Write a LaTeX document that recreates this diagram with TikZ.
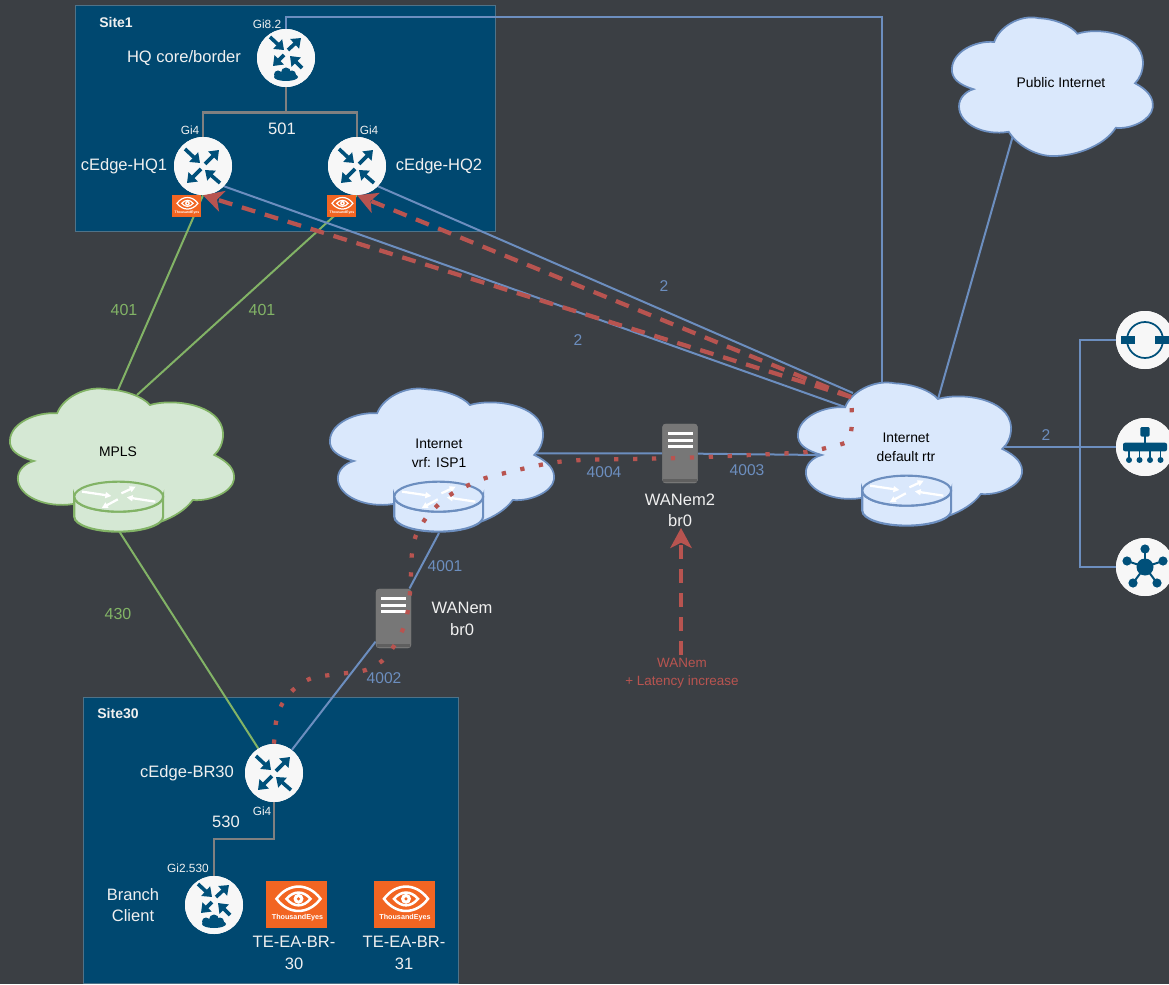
\documentclass[tikz,border=0pt]{standalone}
\usepackage{fontspec}
\setmainfont{Liberation Sans}
\usetikzlibrary{arrows.meta}
\definecolor{bgc}{HTML}{3B3F44}
\definecolor{sitec}{HTML}{004870}
\definecolor{sitee}{HTML}{4F7288}
\definecolor{icon}{HTML}{00507A}
\definecolor{blueln}{HTML}{6C8EBF}
\definecolor{greenln}{HTML}{82B366}
\definecolor{grayln}{HTML}{808080}
\definecolor{redln}{HTML}{B85450}
\definecolor{bluef}{HTML}{DAE8FC}
\definecolor{greenf}{HTML}{D5E8D4}
\definecolor{orangef}{HTML}{F26522}
\definecolor{srv}{HTML}{777777}
\definecolor{srvd}{HTML}{5F5F5F}
\tikzset{
  x=0.75pt,y=-0.75pt,
  site/.style={draw=sitee,fill=sitec,line width=0.6pt},
  disc/.style={circle,fill=white!97!black,draw=none,minimum size=43.5pt,inner sep=0pt},
  teboxn/.style={fill=orangef,draw=none,inner sep=0pt},
  srvbox/.style={fill=srv,draw=none,rounded corners=2.5pt,inner sep=0pt,minimum width=26.5pt,minimum height=44.5pt},
  wt/.style={text=white!94!black,inner sep=0pt,align=center,font=\fontsize{12.4}{15.5}\selectfont},
  wsm/.style={text=white!94!black,inner sep=0pt,font=\fontsize{8.9}{11}\selectfont},
  wb/.style={text=white!94!black,inner sep=0pt,font=\fontsize{10.5}{13}\selectfont\bfseries},
  bk/.style={text=black,inner sep=0pt,align=center,font=\fontsize{10.4}{13.5}\selectfont},
  bt/.style={text=blueln,inner sep=0pt,font=\fontsize{11.7}{14}\selectfont},
  gt/.style={text=greenln,inner sep=0pt,font=\fontsize{12}{14}\selectfont},
  rt/.style={text=redln,inner sep=0pt,align=center,font=\fontsize{10.1}{13.5}\selectfont},
  bl/.style={draw=blueln,line width=1.5pt},
  gl/.style={draw=greenln,line width=1.5pt},
  gr/.style={draw=grayln,line width=2pt},
  dots/.style={draw=redln,line width=3.2pt,dash pattern=on 3.2pt off 11pt},
  dsh/.style={draw=redln,line width=3.2pt,dash pattern=on 10.5pt off 7.5pt},
  rtip/.style={-{Stealth[length=15pt,width=16pt,inset=4pt,fill=redln]}},
  ia/.style={draw=icon,line width=2.7pt,-{Triangle[length=6.5pt,width=9.5pt]}},
  wa/.style={draw=white,line width=1.7pt,-{Triangle[length=4.5pt,width=4.5pt]}},
  cloudshape/.pic={
    \path[pic actions] (160,100) .. controls (175,55) and (240,15) .. (300,28)
      .. controls (350,30) and (400,50) .. (420,75)
      .. controls (480,55) and (620,70) .. (625,160)
      .. controls (625,190) and (615,210) .. (600,225)
      .. controls (640,245) and (660,270) .. (655,300)
      .. controls (650,335) and (590,365) .. (540,360)
      .. controls (500,420) and (400,450) .. (330,445)
      .. controls (280,440) and (230,410) .. (205,372)
      .. controls (130,385) and (50,350) .. (50,295)
      .. controls (50,270) and (70,250) .. (95,243)
      .. controls (50,230) and (25,210) .. (28,180)
      .. controls (30,130) and (100,95) .. (160,100) -- cycle;
  },
  cylshape/.pic={
    \path[pic actions] (208,350) -- (208,410)
      .. controls (208,435) and (263,455) .. (332,455)
      .. controls (401,455) and (457,435) .. (457,410) -- (457,350)
      .. controls (457,375) and (401,395) .. (332,395)
      .. controls (263,395) and (208,375) .. (208,350) -- cycle;
    \path[pic actions] (332,305) .. controls (401,305) and (457,325) .. (457,350)
      .. controls (457,375) and (401,395) .. (332,395)
      .. controls (263,395) and (208,375) .. (208,350)
      .. controls (208,325) and (263,305) .. (332,305) -- cycle;
    \draw[wa] (230,335) -- (312,348);
    \draw[wa] (340,340) -- (380,320);
    \draw[wa] (435,365) -- (355,352);
    \draw[wa] (330,358) -- (285,384);
  },
  rtrarrows/.pic={
    \draw[ia] (-18,-17) -- (-3,-3);
    \draw[ia] (2,-2) -- (16,-16);
    \draw[ia] (-2,3) -- (-16,17);
    \draw[ia] (17,17) -- (2,4);
  },
  rtrcloud/.pic={
    \draw[ia] (-16,-21) -- (-2,-8);
    \draw[ia] (2,-8) -- (15,-20);
    \draw[ia] (-2,-3) -- (-13,8);
    \draw[ia] (16,10) -- (4,-2);
    \fill[icon] (-8,16.5) circle[radius=4];
    \fill[icon] (0,14.5) circle[radius=5];
    \fill[icon] (6,16.5) circle[radius=4];
    \fill[icon] (0,19) ellipse[x radius=12,y radius=4];
  },
  ringicon/.pic={
    \draw[icon,line width=1.3pt] (0,0) circle[radius=18];
    \fill[icon] (-24,-3.7) rectangle (-10,3.7);
    \fill[icon] (10,-3.7) rectangle (26,3.7);
  },
  busicon/.pic={
    \fill[icon,rounded corners=1pt] (-4.7,-20) rectangle (4.7,-10.5);
    \draw[icon,line width=1.4pt] (0,-11) -- (0,-3);
    \fill[icon,rounded corners=1.5pt] (-22,-4.3) rectangle (22,4.3);
    \foreach \p in {-16,-5.5,5,15.5}{
      \draw[icon,line width=1.3pt] (\p,4) -- (\p,12);
      \fill[icon] (\p,13) circle[radius=3];
    }
  },
  hubicon/.pic={
    \foreach \a/\b in {0/-18,-18/-6,18/-6,-12/16,12/16}{
      \draw[icon,line width=1.5pt] (0,0) -- (\a,\b);
      \fill[icon] (\a,\b) circle[radius=4.6];
    }
    \fill[icon] (0,0) circle[radius=8.5];
  },
}
\newcommand{\teicon}[4]{%
  \begin{scope}[shift={(#1.center)},scale=#2]
    \draw[white,line width=#2*1.9pt] (-20,-5.7) .. controls (-8,-22) and (12,-22) .. (24,-5.7)
       .. controls (12,10.5) and (-8,10.5) .. (-20,-5.7) -- cycle;
    \draw[white,line width=#2*1.9pt] (-10,-5.7) .. controls (-3,-14) and (7,-14) .. (14,-5.7)
       .. controls (7,3) and (-3,3) .. (-10,-5.7) -- cycle;
    \fill[white] (2,-5.7) circle[radius=5];
    \fill[orangef] (2,-5.7) circle[radius=1.7];
    \node[text=white,inner sep=0pt,font=\fontsize{#3}{#3}\selectfont\bfseries] (#4) at (1,13.5) {ThousandEyes};
  \end{scope}}
\begin{document}
\begin{tikzpicture}
\useasboundingbox (0,0) rectangle (1169,984);
\fill[bgc] (0,0) rectangle (1169,984);
% site boxes
\path[site] (75,5) rectangle (495,231);
\path[site] (83,697) rectangle (458,983);

% named points
\coordinate (mplsA) at (118,390);
\coordinate (mplsB) at (137,395);
\coordinate (mplsBot) at (119,531);
\coordinate (ispR) at (535,453);
\coordinate (ispBot) at (439,533);
\coordinate (dfTop) at (882,386);
\coordinate (dfA) at (845,407);
\coordinate (dfB) at (853,393);
\coordinate (dfL) at (822,455);
\coordinate (dfPub) at (938,399);
\coordinate (dfR) at (1001,447);
\coordinate (pubBot) at (1014,132);
\coordinate (busT) at (1080,340);
\coordinate (busM) at (1080,447);
\coordinate (busB) at (1080,567);
\coordinate (redEnd) at (851,397);
\coordinate (latSrc) at (681,655);

% nodes
\node[disc] (hq) at (286,58) {};
\node[disc] (hq1) at (203,166) {};
\node[disc] (hq2) at (357,166) {};
\node[disc] (br30) at (274,773) {};
\node[disc] (client) at (214,905) {};
\node[disc] (ic1) at (1145,340) {};
\node[disc] (ic2) at (1145,447) {};
\node[disc] (ic3) at (1145,567) {};
\node[srvbox] (wan) at (393.5,618.5) {};
\node[srvbox] (wan2) at (680,453.5) {};

% links below the clouds
\draw[gl] (hq1.south) -- (mplsA);
\draw[gl] (hq2.south) -- (mplsB);
\draw[gl] (mplsBot) -- (br30);
\draw[bl] (hq.north) |- (600,17) -| (dfTop);
\draw[bl] (hq1.-44) -- (dfA);
\draw[bl] (hq2.-44) -- (dfB);
\draw[bl] (pubBot) -- (dfPub);
\draw[bl] (ispR) -- (wan.center |- ispR) -- (wan2);
\draw[bl] (wan2) -- (dfL);
\draw[bl] (ispBot) -- (wan);
\draw[bl] (wan) -- (br30);
\draw[bl] (dfR) -- (ic2);
\draw[bl] (ic1) -- (busT) -- (busB) -- (ic3);
\draw[gr] (hq.south) -- ++(0,25) -| (hq1.north);
\draw[gr] (hq.south) -- ++(0,25) -| (hq2.north);
\draw[gr] (br30.south) |- (client.north |- 0,839) -- (client.north);

% repaint nodes over the links
\node[disc] at (hq) {};
\node[disc] at (hq1) {};
\node[disc] at (hq2) {};
\node[disc] at (br30) {};
\node[disc] at (client) {};
\node[disc] at (ic1) {};
\node[disc] at (ic2) {};
\node[disc] at (ic3) {};
\node[srvbox] at (wan) {};
\node[srvbox] at (wan2) {};
\pic at (hq) {rtrcloud};
\pic at (client) {rtrcloud};
\pic at (hq1) {rtrarrows};
\pic at (hq2) {rtrarrows};
\pic at (br30) {rtrarrows};
\pic at (ic1) {ringicon};
\pic at (ic2) {busicon};
\pic at (ic3) {hubicon};

% server details
\foreach \n in {wan,wan2}{
  \fill[srvd] ([xshift=1pt,yshift=3pt]\n.south west) rectangle ([xshift=-1pt,yshift=1pt]\n.south east);
  \foreach \d in {-20,-13.5,-7}{
    \fill[white] ([shift={(-12.5,\d-1.5)}]\n.center) rectangle ([shift={(12.5,\d+1.5)}]\n.center);
  }
}

% clouds
\pic[draw=greenln,fill=greenf,line width=1.3pt,xscale=0.357,yscale=0.3333] at (0,380) {cloudshape};
\pic[draw=greenln,fill=greenf,line width=1.6pt,xscale=0.357,yscale=0.3333] at (0,380) {cylshape};
\pic[draw=blueln,fill=bluef,line width=1.3pt,xscale=0.357,yscale=0.3333] at (320,380) {cloudshape};
\pic[draw=blueln,fill=bluef,line width=1.6pt,xscale=0.357,yscale=0.3333] at (320,380) {cylshape};
\pic[draw=blueln,fill=bluef,line width=1.3pt,xscale=0.357,yscale=0.3333] at (788,374) {cloudshape};
\pic[draw=blueln,fill=bluef,line width=1.6pt,xscale=0.357,yscale=0.3333] at (788,374) {cylshape};
\pic[draw=blueln,fill=bluef,line width=1.3pt,xscale=0.32,yscale=0.33] at (943,9) {cloudshape};

% ThousandEyes
\node[teboxn,minimum width=21.75pt,minimum height=16.5pt] (te1) at (186.5,206) {};
\teicon{te1}{0.475}{2.6}{te1t}
\node[teboxn,minimum width=21.75pt,minimum height=16.5pt] (te2) at (341.5,206) {};
\teicon{te2}{0.475}{2.6}{te2t}
\node[teboxn,minimum width=45.75pt,minimum height=35.25pt] (te3) at (296.5,904.5) {};
\teicon{te3}{1}{5.4}{te3t}
\node[teboxn,minimum width=45.75pt,minimum height=35.25pt] (te4) at (404,904.5) {};
\teicon{te4}{1}{5.4}{te4t}

% red paths
\draw[dots] plot[smooth,tension=0.45] coordinates {(br30.north) (276,722) (282,704) (293,690) (312,678) (347,673) (366,670) (382,661) (394,646) (403,629) (408,610) (410,592) (411,573) (412,553) (416,535) (426,518) (439,504) (453,493) (471,484) (489,477) (545,464) (582,460) (678,458) (793,453) (812,451) (830,447) (848,441) (852,423) (redEnd)};
\draw[dsh,rtip] (redEnd) -- (hq1.south);
\draw[dsh,rtip] (redEnd) -- (hq2.south);
\draw[dsh,rtip] (latSrc) -- (681,528);

% labels
\node[wb] (l01) at (116,22) {Site1};
\node[wsm] (l02) at (267,24) {Gi8.2};
\node[wt] (l03) at (184,58) {HQ core/border};
\node[wt] (l04) at (282,129) {501};
\node[wsm] (l05) at (190,130) {Gi4};
\node[wsm] (l06) at (369,130) {Gi4};
\node[wt] (l07) at (124,166) {cEdge-HQ1};
\node[wt] (l08) at (439,166) {cEdge-HQ2};
\node[gt] (l09) at (124,310) {401};
\node[gt] (l10) at (262,310) {401};
\node[gt] (l11) at (118,614) {430};
\node[bt] (l12) at (664,286) {2};
\node[bt] (l13) at (578,340) {2};
\node[bt] (l14) at (1046,435) {2};
\node[bk] (l15) at (118,452) {MPLS};
\node[bk] (l16) at (439,453) {Internet\\[0.6pt]vrf: ISP1};
\node[bk] (l17) at (906,447) {Internet\\[0.6pt]default rtr};
\node[bk] (l18) at (1061,83) {Public Internet};
\node[bt] (l19) at (604,472) {4004};
\node[bt] (l20) at (747,470) {4003};
\node[bt] (l21) at (445,566) {4001};
\node[bt] (l22) at (384,678) {4002};
\node[wt] (l23) at (462,619) {WANem\\[0.5pt]br0};
\node[wt] (l24) at (680,510) {WANem2\\[0.5pt]br0};
\node[rt] (l25) at (682,673) {WANem\\+ Latency increase};
\node[wb] (l26) at (118,713) {Site30};
\node[wt] (l27) at (187,773) {cEdge-BR30};
\node[wsm] (l28) at (262,811) {Gi4};
\node[wt] (l29) at (226,822) {530};
\node[wsm] (l30) at (188,868) {Gi2.530};
\node[wt] (l31) at (133,905) {Branch\\[0.5pt]Client};
\node[wt] (l32) at (294,953) {TE-EA-BR-\\[0.5pt]30};
\node[wt] (l33) at (404,953) {TE-EA-BR-\\[0.5pt]31};
\end{tikzpicture}
\end{document}
